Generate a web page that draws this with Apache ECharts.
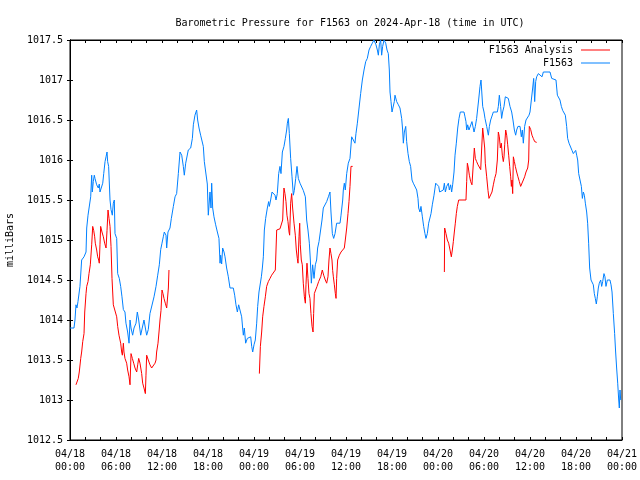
<!DOCTYPE html>
<html>
<head>
<meta charset="utf-8">
<script src="https://cdn.jsdelivr.net/npm/echarts@6/dist/echarts.min.js"></script>
<style>html,body{margin:0;padding:0;background:#fff}#c{width:640px;height:480px}</style>
</head>
<body>
<div id="c"></div>
<script>
// hours since 2024-04-18 00:00 UTC
var pressureHours = [0,0.52,0.65,0.78,0.91,1.04,1.30,1.52,1.83,2.09,2.18,2.35,2.61,2.70,2.83,2.91,3.04,3.17,3.26,3.48,3.69,3.82,3.91,4.13,4.27,4.40,4.57,4.70,4.83,4.91,5.04,5.22,5.35,5.52,5.65,5.78,5.87,6.09,6.22,6.43,6.61,6.78,6.96,7.17,7.30,7.52,7.70,7.83,7.96,8.17,8.35,8.61,8.78,8.96,9.22,9.48,9.65,9.83,10.0,10.21,10.43,10.65,10.96,11.22,11.44,11.65,11.83,12.0,12.17,12.30,12.52,12.61,12.78,13.04,13.22,13.48,13.70,13.91,14.13,14.35,14.57,14.78,14.91,15.09,15.43,15.74,15.96,16.09,16.30,16.52,16.65,16.83,17.04,17.30,17.39,17.52,17.70,17.91,18.04,18.26,18.39,18.48,18.61,18.78,19.0,19.22,19.43,19.57,19.65,19.78,19.91,20.09,20.22,20.43,20.65,20.87,21.30,21.48,21.65,21.83,22.0,22.26,22.39,22.52,22.61,22.74,22.91,23.13,23.35,23.57,23.70,23.83,24.0,24.17,24.35,24.48,24.65,24.78,24.96,25.09,25.22,25.35,25.52,25.74,25.91,26.0,26.17,26.35,26.52,26.74,26.87,27.04,27.22,27.39,27.52,27.70,27.91,28.09,28.26,28.35,28.48,28.61,28.78,28.96,29.13,29.26,29.44,29.61,29.78,30.0,30.22,30.43,30.70,30.87,31.04,31.22,31.35,31.48,31.65,31.83,32.0,32.17,32.30,32.48,32.70,32.87,33.04,33.26,33.48,33.70,33.91,34.04,34.22,34.39,34.57,34.78,35.22,35.35,35.57,35.65,35.78,35.91,36.09,36.30,36.52,36.74,36.96,37.17,37.30,37.48,37.70,37.91,38.13,38.35,38.57,38.78,39.0,39.22,39.43,39.65,39.91,40.09,40.22,40.35,40.52,40.65,40.78,40.96,41.18,41.35,41.52,41.65,41.74,41.87,42.0,42.17,42.30,42.39,42.61,42.83,43.04,43.26,43.39,43.48,43.61,43.79,43.91,44.09,44.26,44.43,44.61,44.78,45.0,45.22,45.39,45.48,45.65,45.78,45.96,46.13,46.30,46.43,46.61,46.78,46.96,47.09,47.26,47.48,47.70,47.91,48.09,48.22,48.48,48.69,48.83,48.96,49.13,49.35,49.48,49.65,49.78,49.91,50.09,50.22,50.39,50.57,50.74,50.91,51.39,51.52,51.65,51.74,51.87,52.04,52.26,52.43,52.61,52.70,52.87,53.04,53.17,53.30,53.48,53.61,53.70,53.83,54.0,54.13,54.35,54.57,54.70,54.87,55.04,55.22,55.74,55.87,56.0,56.17,56.30,56.43,56.61,56.78,56.96,57.17,57.39,57.61,57.78,57.96,58.13,58.26,58.43,58.70,58.87,59.0,59.13,59.30,59.48,59.65,59.87,60.0,60.22,60.35,60.48,60.61,60.74,60.87,61.09,61.30,61.57,61.74,62.61,62.83,63.04,63.39,63.57,63.74,63.91,64.09,64.26,64.43,64.61,64.78,64.91,65.09,65.30,65.48,65.65,65.78,65.96,66.09,66.22,66.35,66.52,66.70,66.83,66.96,67.09,67.22,67.39,67.52,67.65,67.78,67.96,68.17,68.26,68.39,68.52,68.65,68.78,68.91,69.04,69.22,69.35,69.48,69.65,69.78,69.91,70.09,70.22,70.43,70.57,70.70,70.87,71.04,71.17,71.30,71.44,71.57,71.65,71.74,71.83];
var pressureValues = [1013.9,1013.9,1014.0,1014.19,1014.15,1014.23,1014.42,1014.75,1014.79,1014.85,1015.15,1015.31,1015.31,1015.54,1015.81,1015.6,1015.73,1015.81,1015.77,1015.69,1015.65,1015.7,1015.6,1015.6,1015.71,1015.83,1015.98,1016.04,1016.1,1015.98,1015.92,1015.5,1015.38,1015.31,1015.46,1015.5,1015.08,1015.02,1014.58,1014.52,1014.42,1014.29,1014.13,1014.1,1013.96,1013.85,1013.71,1014.0,1013.9,1013.81,1013.9,1013.96,1014.1,1014.0,1013.81,1013.81,1014.0,1013.9,1013.81,1013.88,1014.08,1014.1,1014.29,1014.42,1014.56,1014.69,1014.88,1014.96,1015.04,1015.1,1015.06,1014.9,1015.1,1015.15,1015.27,1015.42,1015.54,1015.58,1015.83,1016.1,1016.06,1015.92,1015.81,1015.96,1016.125,1016.15,1016.27,1016.44,1016.56,1016.625,1016.5,1016.4,1016.31,1016.31,1016.17,1015.98,1015.85,1015.7,1015.31,1015.6,1015.4,1015.71,1015.4,1015.29,1015.19,1015.1,1015.02,1014.71,1014.81,1014.7,1014.9,1014.85,1014.79,1014.65,1014.54,1014.4,1014.4,1014.31,1014.19,1014.1,1014.19,1014.19,1014.04,1013.9,1013.81,1013.9,1013.71,1013.77,1013.79,1013.79,1013.67,1013.6,1013.69,1013.75,1013.96,1014.17,1014.35,1014.375,1014.54,1014.65,1014.79,1015.125,1015.27,1015.4,1015.48,1015.42,1015.5,1015.6,1015.58,1015.56,1015.5,1015.58,1015.83,1015.92,1015.83,1016.1,1016.17,1016.27,1016.375,1016.46,1016.52,1016.33,1016.02,1015.79,1015.56,1015.62,1015.77,1015.92,1015.77,1015.71,1015.71,1015.62,1015.54,1015.25,1015.125,1014.96,1014.75,1014.46,1014.69,1014.52,1014.69,1014.75,1014.9,1014.98,1014.98,1015.25,1015.4,1015.42,1015.48,1015.54,1015.6,1015.35,1015.08,1015.02,1015.08,1015.21,1015.21,1015.31,1015.5,1015.625,1015.71,1015.625,1015.83,1015.96,1016.02,1016.29,1016.31,1016.21,1016.33,1016.46,1016.65,1016.83,1017.0,1017.125,1017.23,1017.27,1017.375,1017.42,1017.46,1017.5,1017.44,1017.375,1017.31,1017.44,1017.5,1017.31,1017.42,1017.5,1017.46,1017.375,1017.33,1017.125,1016.85,1016.73,1016.6,1016.6,1016.73,1016.81,1016.73,1016.69,1016.65,1016.52,1016.375,1016.21,1016.35,1016.42,1016.23,1016.08,1015.98,1015.92,1015.75,1015.71,1015.69,1015.625,1015.52,1015.4,1015.35,1015.42,1015.29,1015.17,1015.08,1015.02,1015.08,1015.21,1015.23,1015.33,1015.44,1015.56,1015.71,1015.71,1015.67,1015.6,1015.6,1015.625,1015.71,1015.6,1015.67,1015.71,1015.625,1015.69,1015.6,1015.69,1015.85,1016.06,1016.21,1016.4,1016.52,1016.6,1016.6,1016.54,1016.48,1016.375,1016.44,1016.375,1016.4,1016.48,1016.5,1016.35,1016.42,1016.52,1016.5,1016.75,1016.92,1017.0,1017.02,1016.67,1016.6,1016.52,1016.42,1016.31,1016.42,1016.5,1016.52,1016.6,1016.6,1016.67,1016.81,1016.67,1016.52,1016.6,1016.67,1016.79,1016.81,1016.77,1016.67,1016.6,1016.5,1016.375,1016.31,1016.375,1016.42,1016.42,1016.29,1016.375,1016.21,1016.42,1016.5,1016.52,1016.56,1016.6,1016.62,1016.9,1017.02,1016.73,1016.98,1017.04,1017.08,1017.1,1017.04,1017.1,1017.1,1017.02,1017.0,1017.0,1016.81,1016.79,1016.75,1016.67,1016.62,1016.6,1016.56,1016.42,1016.27,1016.21,1016.19,1016.12,1016.08,1016.06,1016.12,1016.06,1016.0,1015.83,1015.81,1015.67,1015.52,1015.6,1015.56,1015.46,1015.35,1015.21,1014.96,1014.65,1014.5,1014.5,1014.44,1014.33,1014.27,1014.2,1014.29,1014.4,1014.46,1014.5,1014.42,1014.48,1014.58,1014.54,1014.42,1014.5,1014.48,1014.5,1014.44,1014.35,1014.08,1013.83,1013.6,1013.4,1013.21,1013.0,1012.9,1013.125,1013.0];
// analysis series; null marks a gap
var analysisHours = [0.78,0.95,1.08,1.21,1.40,1.52,1.66,1.83,1.92,2.09,2.18,2.35,2.48,2.65,2.83,2.96,3.09,3.22,3.30,3.48,3.61,3.74,3.82,3.91,4.0,4.17,4.35,4.52,4.70,4.83,4.96,5.09,5.22,5.35,5.48,5.65,5.87,6.09,6.22,6.39,6.61,6.74,6.83,6.96,7.04,7.17,7.39,7.52,7.70,7.83,7.96,8.13,8.31,8.48,8.70,8.83,8.96,9.13,9.35,9.48,9.65,9.83,9.91,10.0,10.21,10.43,10.65,10.87,11.09,11.22,11.30,11.48,11.61,11.74,11.87,12.0,12.13,12.26,12.43,12.61,12.70,12.83,12.91,
  18,
  24.70,24.83,25.0,25.13,25.30,25.48,25.65,25.87,26.09,26.30,26.52,26.78,26.87,26.96,27.22,27.39,27.57,27.74,27.83,27.91,28.04,28.17,28.30,28.43,28.57,28.65,28.78,28.91,29.04,29.22,29.39,29.52,29.65,29.74,29.87,29.96,30.04,30.17,30.30,30.43,30.57,30.70,30.78,30.91,31.04,31.17,31.30,31.43,31.57,31.70,31.78,31.87,32.04,32.22,32.43,32.70,32.91,33.09,33.30,33.48,33.65,33.78,33.91,34.04,34.17,34.26,34.35,34.48,34.61,34.70,34.78,34.91,35.13,35.35,35.57,35.78,35.91,36.09,36.26,36.39,36.52,36.65,36.87,
  42,
  48.83,48.87,49.04,49.22,49.39,49.57,49.74,49.87,50.0,50.13,50.26,50.39,50.52,50.70,51.65,51.74,51.83,51.96,52.09,52.26,52.43,52.61,52.74,52.87,53.04,53.22,53.39,53.57,53.70,53.83,53.96,54.09,54.17,54.35,54.52,54.65,54.87,55.04,55.22,55.39,55.57,55.74,55.87,56.0,56.13,56.26,56.39,56.52,56.61,56.70,56.83,56.96,57.09,57.22,57.35,57.48,57.57,57.65,57.74,57.83,57.96,58.09,58.26,58.43,58.61,58.78,58.96,59.13,59.30,59.48,59.70,59.83,59.91,60.09,60.26,60.43,60.61,60.87];
var analysisValues = [1013.19,1013.19,1013.27,1013.35,1013.52,1013.6,1013.73,1013.83,1014.1,1014.33,1014.42,1014.48,1014.58,1014.69,1014.94,1015.17,1015.12,1015.04,1014.96,1014.875,1014.79,1014.75,1014.71,1014.94,1015.17,1015.1,1015.04,1014.96,1014.9,1015.12,1015.375,1015.27,1015.17,1014.92,1014.52,1014.19,1014.19,1014.04,1013.92,1013.81,1013.71,1013.6,1013.56,1013.71,1013.6,1013.52,1013.46,1013.375,1013.29,1013.19,1013.58,1013.52,1013.46,1013.4,1013.35,1013.44,1013.52,1013.46,1013.33,1013.21,1013.15,1013.08,1013.31,1013.56,1013.5,1013.44,1013.4,1013.375,1013.46,1013.5,1013.6,1013.71,1013.85,1014.0,1014.12,1014.375,1014.33,1014.27,1014.21,1014.15,1014.25,1014.4,1014.625,
  null,
  1013.33,1013.67,1013.85,1014.04,1014.17,1014.29,1014.42,1014.48,1014.52,1014.56,1014.58,1014.625,1014.875,1015.125,1015.14,1015.14,1015.15,1015.25,1015.5,1015.65,1015.58,1015.48,1015.31,1015.23,1015.1,1015.06,1015.46,1015.58,1015.4,1015.21,1015.06,1014.875,1014.77,1014.71,1015.04,1015.21,1014.94,1014.75,1014.69,1014.46,1014.29,1014.21,1014.44,1014.71,1014.52,1014.33,1014.27,1014.08,1013.92,1013.85,1014.08,1014.33,1014.375,1014.42,1014.48,1014.54,1014.625,1014.56,1014.5,1014.46,1014.54,1014.75,1014.9,1014.83,1014.75,1014.62,1014.54,1014.44,1014.33,1014.27,1014.52,1014.75,1014.81,1014.85,1014.875,1014.9,1015.0,1015.15,1015.33,1015.48,1015.67,1015.92,1015.92,
  null,
  1014.6,1015.15,1015.08,1015.0,1014.96,1014.875,1014.79,1014.875,1014.98,1015.1,1015.21,1015.33,1015.42,1015.5,1015.5,1015.73,1015.96,1015.9,1015.81,1015.73,1015.69,1015.67,1016.15,1016.02,1015.98,1015.94,1015.92,1015.88,1016.15,1016.4,1016.4,1016.15,1015.96,1015.79,1015.62,1015.52,1015.52,1015.6,1015.69,1015.77,1015.83,1016.0,1016.35,1016.29,1016.15,1016.21,1016.06,1015.98,1016.04,1016.19,1016.375,1016.31,1016.19,1016.06,1015.92,1015.79,1015.67,1015.75,1015.58,1016.04,1015.98,1015.92,1015.85,1015.79,1015.73,1015.67,1015.69,1015.75,1015.79,1015.85,1015.9,1016.0,1016.42,1016.38,1016.31,1016.27,1016.23,1016.22];
var xTickHours = [0,6,12,18,24,30,36,42,48,54,60,66,72];
var yTicks = [1012.5,1013,1013.5,1014,1014.5,1015,1015.5,1016,1016.5,1017,1017.5];

function zip(a, b) { return a.map(function (v, i) { return [v, b[i]]; }); }
function pad(n) { return (n < 10 ? '0' : '') + n; }
var font = 'DejaVu Sans Mono';
var chart = echarts.init(document.getElementById('c'), null, { renderer: 'canvas' });
var tickStyle = { show: true, inside: true, length: 3, lineStyle: { color: '#000', width: 1 } };
var minorStyle = { show: true, splitNumber: 3, length: 3, lineStyle: { color: '#000', width: 1 } };
chart.setOption({
  animation: false,
  backgroundColor: '#fff',
  textStyle: { fontFamily: font },
  title: {
    text: 'Barometric Pressure for F1563 on 2024-Apr-18 (time in UTC)',
    left: 345, top: 13, textAlign: 'center',
    textStyle: { fontFamily: font, fontSize: 10, fontWeight: 'normal', color: '#000' }
  },
  legend: {
    orient: 'vertical', right: 25, top: 39, align: 'right',
    icon: 'rect', itemWidth: 29, itemHeight: 1, itemGap: 1,
    textStyle: { fontFamily: font, fontSize: 10, color: '#000', padding: [0, 3, 0, 0], lineHeight: 12 },
    data: ['F1563 Analysis', 'F1563']
  },
  grid: { left: 70, right: 18, top: 40, bottom: 40, outerBoundsMode: 'none', containLabel: false, show: true, borderColor: '#000', borderWidth: 1, backgroundColor: 'transparent' },
  xAxis: [{
    type: 'value', min: xTickHours[0], max: xTickHours[xTickHours.length - 1], interval: 6,
    axisLine: { show: true, lineStyle: { color: '#000' } },
    axisTick: tickStyle, minorTick: minorStyle, splitLine: { show: false },
    axisLabel: {
      fontFamily: font, fontSize: 10, color: '#000', margin: 8, lineHeight: 13,
      hideOverlap: false,
      formatter: function (h) {
        var d = 18 + Math.floor(h / 24);
        return '04/' + pad(d) + '\n' + pad(h % 24) + ':00';
      }
    }
  }, {
    type: 'value', position: 'top', min: 0, max: 72, interval: 6,
    axisLine: { show: true, lineStyle: { color: '#000' } },
    axisTick: tickStyle, minorTick: minorStyle, splitLine: { show: false },
    axisLabel: { show: false }
  }],
  yAxis: [{
    type: 'value', min: yTicks[0], max: yTicks[yTicks.length - 1], interval: 0.5,
    name: 'milliBars', nameLocation: 'middle', nameGap: 55, nameRotate: 90,
    nameTextStyle: { fontFamily: font, fontSize: 10, color: '#000' },
    axisLine: { show: true, lineStyle: { color: '#000' } },
    axisTick: tickStyle, splitLine: { show: false },
    axisLabel: { fontFamily: font, fontSize: 10, color: '#000', margin: 7,
      formatter: function (v) { return String(v); } }
  }, {
    type: 'value', position: 'right', min: 1012.5, max: 1017.5, interval: 0.5,
    axisLine: { show: true, lineStyle: { color: '#000' } },
    axisTick: tickStyle, splitLine: { show: false },
    axisLabel: { show: false }
  }],
  series: [{
    name: 'F1563 Analysis', type: 'line', xAxisIndex: 0, yAxisIndex: 0,
    data: zip(analysisHours, analysisValues), showSymbol: false, symbol: 'none',
    connectNulls: false, lineStyle: { color: '#ff0000', width: 1 }, itemStyle: { color: '#ff0000' }
  }, {
    name: 'F1563', type: 'line', xAxisIndex: 0, yAxisIndex: 0,
    data: zip(pressureHours, pressureValues), showSymbol: false, symbol: 'none',
    lineStyle: { color: '#0080ff', width: 1 }, itemStyle: { color: '#0080ff' }
  }]
});
</script>
</body>
</html>
